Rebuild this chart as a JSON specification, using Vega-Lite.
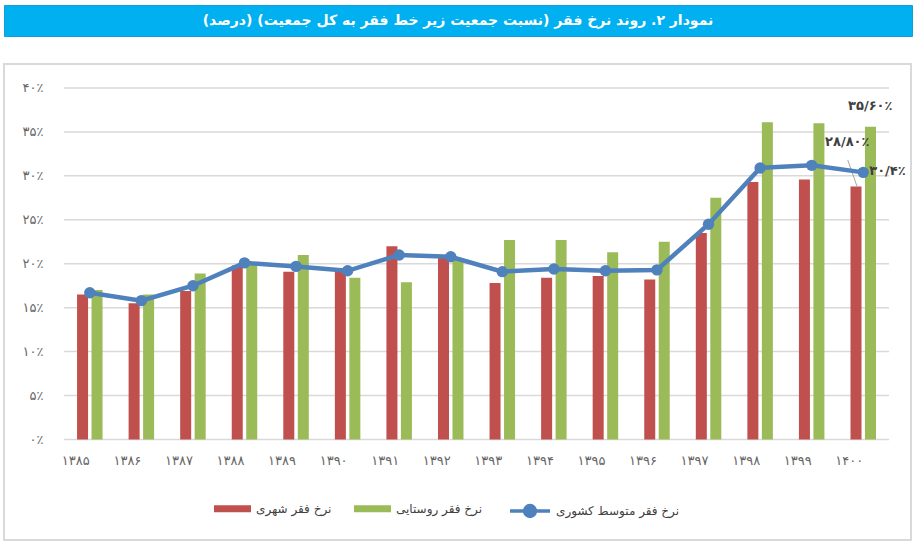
{
  "$schema": "https://vega.github.io/schema/vega-lite/v6.json",
  "padding": {"left": 3, "top": 4, "right": 2, "bottom": 9},
  "background": "white",
  "spacing": 26,
  "config": {
    "font": "DejaVu Sans",
    "view": {"stroke": "#d9d9d9", "strokeWidth": 2}
  },
  "datasets": {
    "poverty": [
      {"year": "۱۳۸۵", "series": "نرخ فقر شهری", "value": 16.5},
      {"year": "۱۳۸۶", "series": "نرخ فقر شهری", "value": 15.5},
      {"year": "۱۳۸۷", "series": "نرخ فقر شهری", "value": 16.9},
      {"year": "۱۳۸۸", "series": "نرخ فقر شهری", "value": 19.8},
      {"year": "۱۳۸۹", "series": "نرخ فقر شهری", "value": 19.1},
      {"year": "۱۳۹۰", "series": "نرخ فقر شهری", "value": 19.1},
      {"year": "۱۳۹۱", "series": "نرخ فقر شهری", "value": 22.0},
      {"year": "۱۳۹۲", "series": "نرخ فقر شهری", "value": 20.7},
      {"year": "۱۳۹۳", "series": "نرخ فقر شهری", "value": 17.8},
      {"year": "۱۳۹۴", "series": "نرخ فقر شهری", "value": 18.4},
      {"year": "۱۳۹۵", "series": "نرخ فقر شهری", "value": 18.6},
      {"year": "۱۳۹۶", "series": "نرخ فقر شهری", "value": 18.2},
      {"year": "۱۳۹۷", "series": "نرخ فقر شهری", "value": 23.5},
      {"year": "۱۳۹۸", "series": "نرخ فقر شهری", "value": 29.3},
      {"year": "۱۳۹۹", "series": "نرخ فقر شهری", "value": 29.6},
      {"year": "۱۴۰۰", "series": "نرخ فقر شهری", "value": 28.8},
      {"year": "۱۳۸۵", "series": "نرخ فقر روستایی", "value": 17.0},
      {"year": "۱۳۸۶", "series": "نرخ فقر روستایی", "value": 16.5},
      {"year": "۱۳۸۷", "series": "نرخ فقر روستایی", "value": 18.9},
      {"year": "۱۳۸۸", "series": "نرخ فقر روستایی", "value": 19.9},
      {"year": "۱۳۸۹", "series": "نرخ فقر روستایی", "value": 21.0},
      {"year": "۱۳۹۰", "series": "نرخ فقر روستایی", "value": 18.4},
      {"year": "۱۳۹۱", "series": "نرخ فقر روستایی", "value": 17.9},
      {"year": "۱۳۹۲", "series": "نرخ فقر روستایی", "value": 20.5},
      {"year": "۱۳۹۳", "series": "نرخ فقر روستایی", "value": 22.7},
      {"year": "۱۳۹۴", "series": "نرخ فقر روستایی", "value": 22.7},
      {"year": "۱۳۹۵", "series": "نرخ فقر روستایی", "value": 21.3},
      {"year": "۱۳۹۶", "series": "نرخ فقر روستایی", "value": 22.5},
      {"year": "۱۳۹۷", "series": "نرخ فقر روستایی", "value": 27.5},
      {"year": "۱۳۹۸", "series": "نرخ فقر روستایی", "value": 36.1},
      {"year": "۱۳۹۹", "series": "نرخ فقر روستایی", "value": 36.0},
      {"year": "۱۴۰۰", "series": "نرخ فقر روستایی", "value": 35.6},
      {"year": "۱۳۸۵", "series": "نرخ فقر متوسط کشوری", "value": 16.7},
      {"year": "۱۳۸۶", "series": "نرخ فقر متوسط کشوری", "value": 15.8},
      {"year": "۱۳۸۷", "series": "نرخ فقر متوسط کشوری", "value": 17.5},
      {"year": "۱۳۸۸", "series": "نرخ فقر متوسط کشوری", "value": 20.1},
      {"year": "۱۳۸۹", "series": "نرخ فقر متوسط کشوری", "value": 19.7},
      {"year": "۱۳۹۰", "series": "نرخ فقر متوسط کشوری", "value": 19.2},
      {"year": "۱۳۹۱", "series": "نرخ فقر متوسط کشوری", "value": 21.0},
      {"year": "۱۳۹۲", "series": "نرخ فقر متوسط کشوری", "value": 20.8},
      {"year": "۱۳۹۳", "series": "نرخ فقر متوسط کشوری", "value": 19.1},
      {"year": "۱۳۹۴", "series": "نرخ فقر متوسط کشوری", "value": 19.4},
      {"year": "۱۳۹۵", "series": "نرخ فقر متوسط کشوری", "value": 19.2},
      {"year": "۱۳۹۶", "series": "نرخ فقر متوسط کشوری", "value": 19.3},
      {"year": "۱۳۹۷", "series": "نرخ فقر متوسط کشوری", "value": 24.5},
      {"year": "۱۳۹۸", "series": "نرخ فقر متوسط کشوری", "value": 30.9},
      {"year": "۱۳۹۹", "series": "نرخ فقر متوسط کشوری", "value": 31.2},
      {"year": "۱۴۰۰", "series": "نرخ فقر متوسط کشوری", "value": 30.4}
    ],
    "grid": [
      {"g": 0}, {"g": 5}, {"g": 10}, {"g": 15}, {"g": 20}, {"g": 25}, {"g": 30}, {"g": 35}, {"g": 40}
    ],
    "labels": [
      {"year": "۱۴۰۰", "series": "rural", "value": 35.6, "label": "۳۵/۶۰٪"},
      {"year": "۱۴۰۰", "series": "urban", "value": 28.8, "label": "۲۸/۸۰٪"},
      {"year": "۱۴۰۰", "series": "national", "value": 30.4, "label": "۳۰/۴٪"},
      {"year": "۱۴۰۰", "series": "leader", "value": 31.8, "value2": 28.8}
    ]
  },
  "vconcat": [
    {
      "width": 908,
      "height": 31,
      "view": {"fill": "#00b0f0", "stroke": "#119fd6", "strokeWidth": 1},
      "data": {"values": [{"t": "‫نمودار ۲. روند نرخ فقر (نسبت جمعیت زیر خط فقر به کل جمعیت) (درصد)‬"}]},
      "mark": {"type": "text", "color": "white", "font": "DejaVu Sans", "fontSize": 14, "fontWeight": "bold", "align": "center", "baseline": "middle"},
      "encoding": {"text": {"field": "t"}}
    },
    {
      "width": 907,
      "height": 476,
      "layer": [
        {
          "data": {"name": "grid"},
          "mark": {"type": "rule", "color": "#d9d9d9", "strokeWidth": 1.5},
          "encoding": {
            "y": {"field": "g", "type": "quantitative", "scale": {"domain": [-11.437, 42.731], "nice": false, "zero": false}},
            "x": {"datum": "۱۳۸۵", "type": "nominal", "bandPosition": 0},
            "x2": {"datum": "۱۴۰۰", "bandPosition": 1}
          }
        },
        {
          "data": {"name": "poverty"},
          "transform": [{"filter": "datum.series !== 'نرخ فقر متوسط کشوری'"}],
          "mark": {"type": "bar"},
          "encoding": {
            "x": {
              "field": "year", "type": "nominal",
              "scale": {"type": "band", "domain": ["۱۳۸۵","۱۳۸۶","۱۳۸۷","۱۳۸۸","۱۳۸۹","۱۳۹۰","۱۳۹۱","۱۳۹۲","۱۳۹۳","۱۳۹۴","۱۳۹۵","۱۳۹۶","۱۳۹۷","۱۳۹۸","۱۳۹۹","۱۴۰۰"], "paddingInner": 0, "paddingOuter": 0.795, "align": 0.732},
              "axis": {"title": null, "orient": "bottom", "offset": -100.5, "domain": false, "ticks": false, "grid": false, "labelPadding": 21, "labelAngle": 0, "labelFont": "DejaVu Sans", "labelFontSize": 13, "labelColor": "#666666"}
            },
            "xOffset": {"field": "series", "type": "nominal", "scale": {"domain": ["نرخ فقر شهری", "نرخ فقر روستایی"], "paddingInner": 0.24, "paddingOuter": 0.9}},
            "y": {
              "field": "value", "type": "quantitative", "stack": null,
              "scale": {"domain": [-11.437, 42.731], "nice": false, "zero": false},
              "axis": {"title": null, "values": [0, 5, 10, 15, 20, 25, 30, 35, 40], "domain": false, "ticks": false, "grid": false, "offset": -39, "labelPadding": 0, "labelFont": "DejaVu Sans", "labelFontSize": 13, "labelColor": "#666666",
                "labelExpr": "replace(replace(replace(replace(replace(replace(format(datum.value, 'd'), /0/g, '۰'), /1/g, '۱'), /2/g, '۲'), /3/g, '۳'), /4/g, '۴'), /5/g, '۵') + '٪'"}
            },
            "color": {
              "field": "series", "type": "nominal",
              "scale": {"domain": ["نرخ فقر شهری", "نرخ فقر روستایی"], "range": ["#c0504d", "#9bbb59"]},
              "legend": {"title": null, "orient": "none", "legendX": 210, "legendY": 485, "direction": "horizontal", "symbolType": "M-1,-0.19H1V0.19H-1Z", "symbolSize": 1369, "symbolStrokeWidth": 0, "labelOffset": 5, "columnPadding": 22, "labelFont": "DejaVu Sans", "labelFontSize": 12, "labelColor": "#404040"}
            }
          }
        },
        {
          "data": {"name": "labels"},
          "transform": [{"filter": "datum.series === 'leader'"}],
          "mark": {"type": "rule", "color": "#a6a6a6", "strokeWidth": 1},
          "encoding": {
            "x": {"datum": "۱۴۰۰", "type": "nominal", "bandPosition": 0.2},
            "x2": {"datum": "۱۴۰۰", "bandPosition": 0.38},
            "y": {"field": "value", "type": "quantitative", "scale": {"domain": [-11.437, 42.731], "nice": false, "zero": false}},
            "y2": {"field": "value2"}
          }
        },
        {
          "data": {"name": "poverty"},
          "transform": [{"filter": "datum.series === 'نرخ فقر متوسط کشوری'"}],
          "mark": {"type": "line", "strokeWidth": 4.5, "point": {"filled": true, "size": 130, "fill": "#4f81bd", "strokeWidth": 0}},
          "encoding": {
            "x": {"field": "year", "type": "nominal"},
            "y": {"field": "value", "type": "quantitative", "scale": {"domain": [-11.437, 42.731], "nice": false, "zero": false}},
            "stroke": {
              "field": "series", "type": "nominal",
              "scale": {"domain": ["نرخ فقر متوسط کشوری"], "range": ["#4f81bd"]},
              "legend": {"title": null, "orient": "none", "legendX": 504, "legendY": 484, "symbolType": "M-1,0H1M-0.27,0A0.27,0.27,0,1,1,0.27,0A0.27,0.27,0,1,1,-0.27,0Z", "symbolSize": 1600, "symbolStrokeWidth": 3.5, "symbolFillColor": "#4f81bd", "labelOffset": 4, "labelFont": "DejaVu Sans", "labelFontSize": 12, "labelColor": "#404040"}
            }
          }
        },
        {
          "data": {"name": "labels"},
          "transform": [{"filter": "datum.series === 'rural'"}],
          "mark": {"type": "text", "dx": 7, "dy": -21, "align": "center", "baseline": "middle", "font": "DejaVu Sans", "fontSize": 13, "fontWeight": "bold", "color": "#404040"},
          "encoding": {
            "x": {"field": "year", "type": "nominal"},
            "y": {"field": "value", "type": "quantitative", "scale": {"domain": [-11.437, 42.731], "nice": false, "zero": false}},
            "text": {"field": "label"}
          }
        },
        {
          "data": {"name": "labels"},
          "transform": [{"filter": "datum.series === 'urban'"}],
          "mark": {"type": "text", "dx": -16, "dy": -44, "align": "center", "baseline": "middle", "font": "DejaVu Sans", "fontSize": 13, "fontWeight": "bold", "color": "#404040"},
          "encoding": {
            "x": {"field": "year", "type": "nominal"},
            "y": {"field": "value", "type": "quantitative", "scale": {"domain": [-11.437, 42.731], "nice": false, "zero": false}},
            "text": {"field": "label"}
          }
        },
        {
          "data": {"name": "labels"},
          "transform": [{"filter": "datum.series === 'national'"}],
          "mark": {"type": "text", "dx": 6, "dy": -1, "align": "left", "baseline": "middle", "font": "DejaVu Sans", "fontSize": 13, "fontWeight": "bold", "color": "#404040"},
          "encoding": {
            "x": {"field": "year", "type": "nominal"},
            "y": {"field": "value", "type": "quantitative", "scale": {"domain": [-11.437, 42.731], "nice": false, "zero": false}},
            "text": {"field": "label"}
          }
        }
      ]
    }
  ]
}
